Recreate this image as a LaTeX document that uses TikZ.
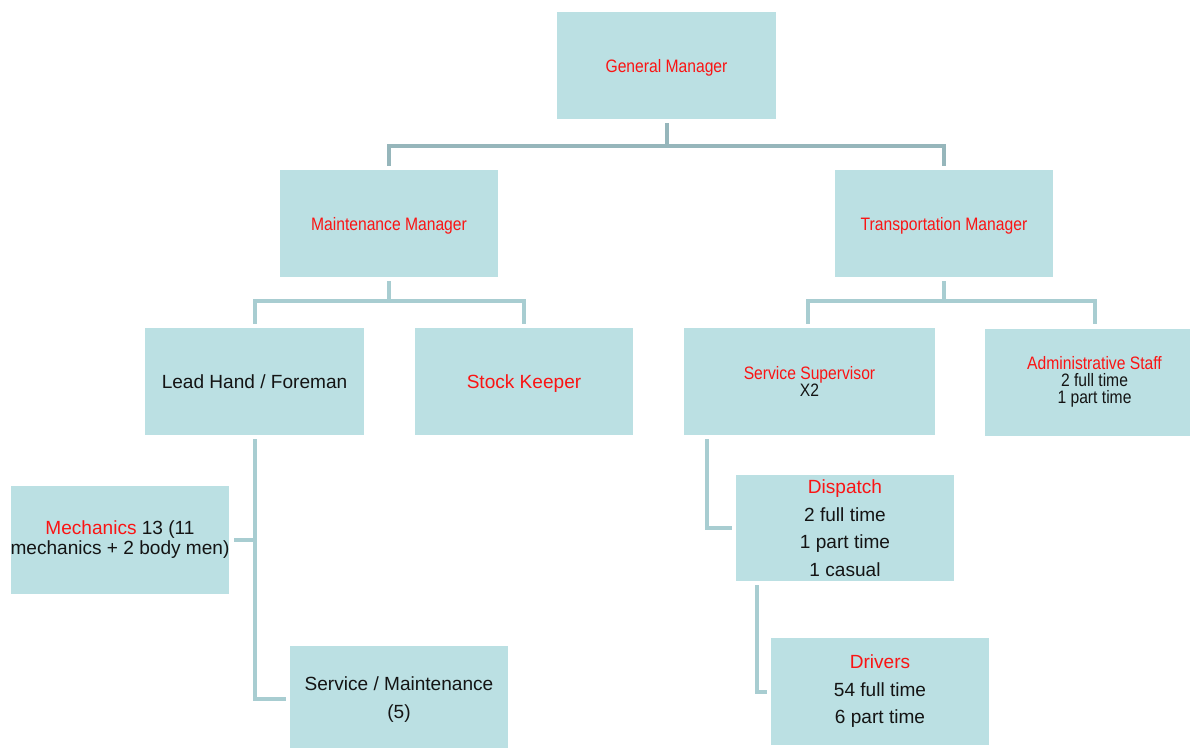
\documentclass[tikz,border=0pt]{standalone}
\usepackage{fontspec}
\setmainfont{Liberation Sans}
\newfontfamily\narrowfont[FakeStretch=0.87]{Liberation Sans}
\usetikzlibrary{calc}
\definecolor{boxfill}{RGB}{187,224,227}
\definecolor{linetop}{RGB}{150,182,187}
\definecolor{linelow}{RGB}{168,205,209}
\definecolor{title}{RGB}{250,20,20}
\definecolor{body}{RGB}{20,20,20}

\begin{document}
\begin{tikzpicture}[x=0.75pt,y=-0.75pt,
  box/.style 2 args={fill=boxfill, draw=none, inner sep=0pt, align=center, text=body,
    minimum width=#1*0.75pt, minimum height=#2*0.75pt},
  plain/.style={font=\fontsize{14.3}{20.6}\selectfont},
  tight/.style={font=\fontsize{14.3}{15}\selectfont},
  narrow/.style={font=\narrowfont\fontsize{13.5}{13}\selectfont},
  oneline/.style={text depth=0pt},
  conn/.style={line width=3pt, draw=linelow, shorten <=3pt, shorten >=3pt},
  conntop/.style={conn, draw=linetop},
]
\useasboundingbox (0,0) rectangle (1190,747);
\fill[white] (0,0) rectangle (1190,747);
\clip (0,0) rectangle (1190,747);

% top level
\node[box={219}{107}, narrow, oneline, text=title] (gm) at (666.5,65.5) {General Manager};

% managers
\node[box={218}{107}, narrow, oneline, text=title] (mm) at (389,223.5) {Maintenance Manager};
\node[box={218}{107}, narrow, oneline, text=title] (tm) at (944,223.5) {Transportation Manager};

% maintenance side
\node[box={219}{107}, plain, oneline] (lh) at (254.5,381.5) {Lead Hand / Foreman};
\node[box={218}{107}, plain, oneline, text=title] (sk) at (524,381.5) {Stock Keeper};
\node[box={218}{108}, tight] (me) at (120,540) {\textcolor{title}{Mechanics} 13 (11\\mechanics + 2 body men)};
\node[box={218}{107}, plain] (sm) at (399,699.5) {Service / Maintenance\\(5)};

% transportation side
\node[box={251}{107}, narrow] (ss) at (809.5,381.5) {\textcolor{title}{Service Supervisor}\\X2};
\node[box={219}{107}, narrow] (ad) at (1094.5,382) {\textcolor{title}{Administrative Staff}\\2 full time\\1 part time};
\node[box={218}{106}, plain] (di) at (845,528) {\textcolor{title}{Dispatch}\\2 full time\\1 part time\\1 casual};
\node[box={218}{107}, plain] (dr) at (880,691.5) {\textcolor{title}{Drivers}\\54 full time\\6 part time};

% connectors
\draw[conntop] (gm.south) -- ++(0,27) -| (mm.north);
\draw[conntop] (gm.south) -- ++(0,27) -| (tm.north);

\draw[conn] (mm.south) -- ++(0,24) -| (lh.north);
\draw[conn] (mm.south) -- ++(0,24) -| (sk.north);
\draw[conn] (tm.south) -- ++(0,24) -| ($(ss.north west)+(124,0)$);
\draw[conn] (tm.south) -- ++(0,24) -| ($(ad.north west)+(110,0)$);

\draw[conn] (lh.south) |- (me.east);
\draw[conn] (lh.south) |- ($(sm.west)+(0,-1)$);

\draw[conn] ($(ss.south west)+(23,0)$) |- (di.west);
\draw[conn] ($(di.south west)+(21,0)$) |- (dr.west);
\end{tikzpicture}
\end{document}
